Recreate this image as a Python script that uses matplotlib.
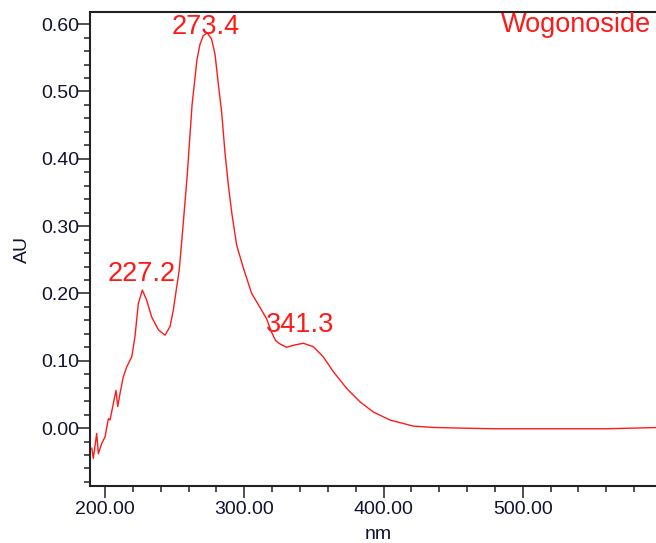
import matplotlib.pyplot as plt
from matplotlib.ticker import FixedLocator, MultipleLocator, FormatStrFormatter

# wavelength (nm) and absorbance (AU)
wavelength = [190.5, 191.6, 194.0, 195.2, 197.6, 200.0, 202.4, 203.6, 206.0, 207.9,
              209.1, 210.8, 213.1, 215.6, 219.2, 221.5, 223.9, 226.8, 229.9, 233.5,
              238.3, 243.1, 246.7, 249.0, 251.5, 253.3, 255.4, 259.0, 262.5, 266.0,
              268.2, 270.6, 273.4, 276.5, 279.0, 281.3, 283.8, 286.1, 288.5, 291.0,
              294.5, 299.3, 305.3, 312.5, 316.1, 319.7, 322.5, 325.6, 330.4, 335.2,
              342.4, 349.5, 356.7, 363.9, 373.5, 383.1, 392.6, 404.6, 421.3, 435.7,
              455.0, 480.0, 520.0, 560.0, 600.0]
absorbance = [-0.030, -0.045, -0.008, -0.038, -0.023, -0.013, 0.014, 0.012, 0.037, 0.056,
              0.032, 0.052, 0.076, 0.091, 0.106, 0.136, 0.185, 0.205, 0.190, 0.165,
              0.146, 0.138, 0.151, 0.175, 0.210, 0.235, 0.285, 0.375, 0.480, 0.547,
              0.570, 0.583, 0.587, 0.578, 0.555, 0.512, 0.468, 0.410, 0.362, 0.320,
              0.272, 0.238, 0.200, 0.175, 0.162, 0.142, 0.130, 0.125, 0.120, 0.123,
              0.126, 0.121, 0.106, 0.084, 0.059, 0.039, 0.024, 0.012, 0.003, 0.001,
              0.000, -0.001, -0.001, -0.001, 0.001]

peak_nm = [227.2, 273.4, 341.3]
peak_label_y = [0.218, 0.586, 0.143]
peak_labels = ['227.2', '273.4', '341.3']
compound = 'Wogonoside'
x_major = [200, 300, 400, 500]

red = '#ff1a1a'
ink = '#111133'

fig = plt.figure(figsize=(6.56, 5.43), dpi=100)
W, H = 656, 543
ax = fig.add_axes([90 / W, 57 / H, (662 - 90) / W, 474 / H])

ax.plot(wavelength, absorbance, color=red, lw=1.0)

ax.set_xlim(189.2, 600)
ax.set_ylim(-0.086, 0.618)

ax.xaxis.set_major_locator(FixedLocator(x_major))
ax.xaxis.set_minor_locator(MultipleLocator(20))
ax.yaxis.set_major_locator(MultipleLocator(0.1))
ax.yaxis.set_minor_locator(MultipleLocator(0.02))
ax.xaxis.set_major_formatter(FormatStrFormatter('%.2f'))
ax.yaxis.set_major_formatter(FormatStrFormatter('%.2f'))

ax.tick_params(which='major', length=8.5, width=1.1, color='#222222')
ax.tick_params(which='minor', length=4, width=1.1, color='#222222')
ax.tick_params(axis='y', which='major', pad=-1)
ax.tick_params(axis='x', which='major', pad=2)
for lab in ax.get_xticklabels() + ax.get_yticklabels():
    lab.set_family('Liberation Sans')
    lab.set_fontsize(14)
    lab.set_color(ink)

for s in ['left', 'bottom', 'top']:
    ax.spines[s].set_linewidth(1.5)
    ax.spines[s].set_color('#222222')
ax.spines['right'].set_visible(False)

for x, y, t in zip(peak_nm, peak_label_y, peak_labels):
    ax.text(x - 1.0, y, t, color=red, fontsize=19.5, family='Liberation Sans',
            ha='center', va='baseline')

fig.text(651 / W, 1 - 32 / H, compound, color=red, fontsize=19.5,
         family='Liberation Sans', ha='right', va='baseline')

fig.text(22 / W, 1 - 250 / H, 'AU', rotation=90, fontsize=14,
         family='Liberation Sans', ha='center', va='center', color=ink)
fig.text(378 / W, 1 - 539 / H, 'nm', fontsize=14, family='Liberation Sans',
         ha='center', va='baseline', color=ink)

fig.savefig('out.png', dpi=100)
